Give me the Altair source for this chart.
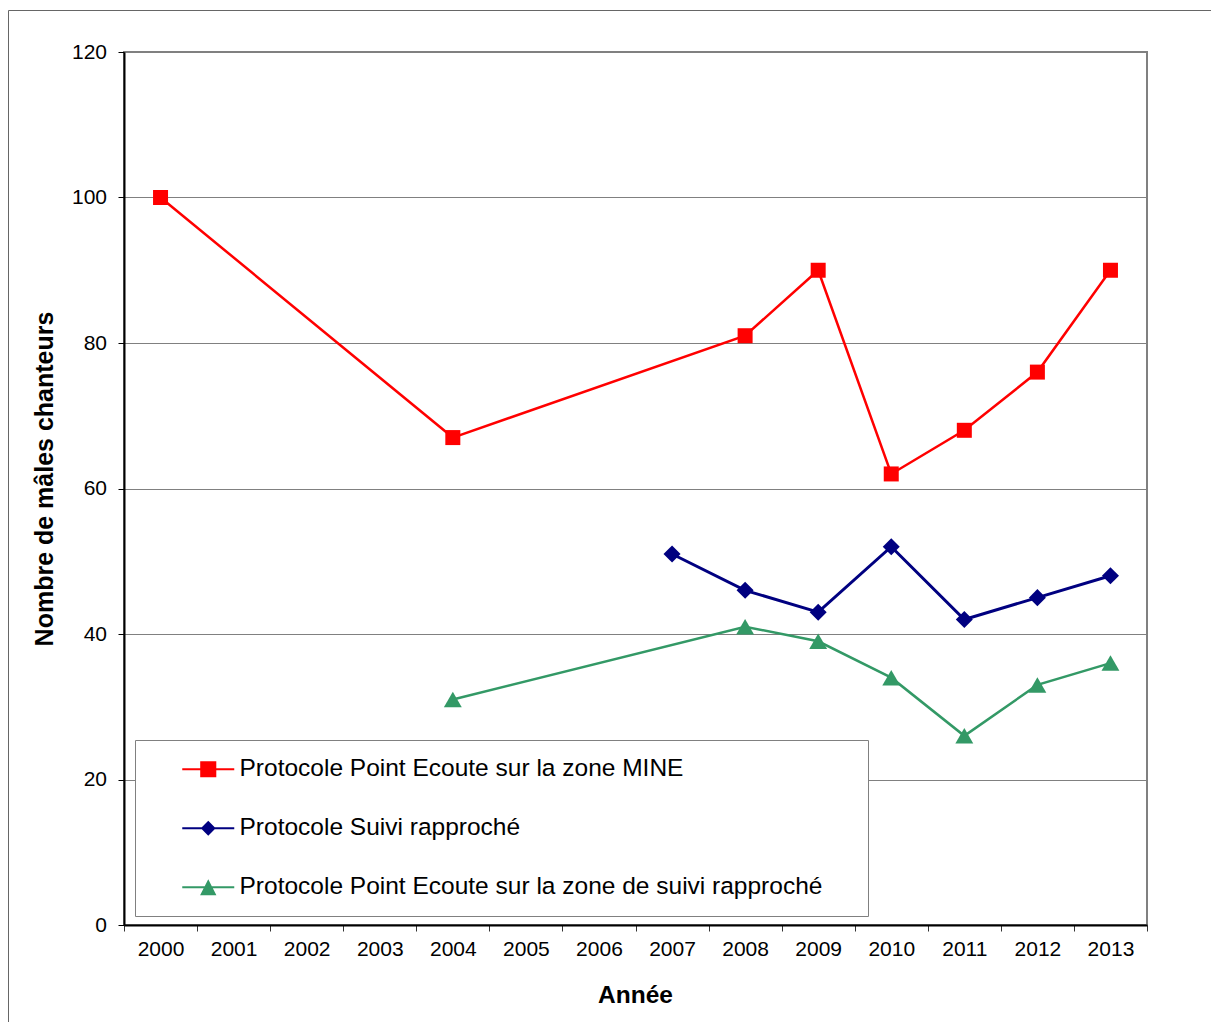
import altair as alt
import pandas as pd

years = ["2000", "2001", "2002", "2003", "2004", "2005", "2006",
         "2007", "2008", "2009", "2010", "2011", "2012", "2013"]

series = [
    "Protocole Point Ecoute sur la zone MINE",
    "Protocole Suivi rapproché",
    "Protocole Point Ecoute sur la zone de suivi rapproché",
]

mine_vals = [100, None, None, None, 67, None, None, None, 81, 90, 62, 68, 76, 90]
suivi_vals = [None, None, None, None, None, None, None, 51, 46, 43, 52, 42, 45, 48]
zone_vals = [None, None, None, None, 31, None, None, None, 41, 39, 34, 26, 33, 36]

colors = ["#FF0000", "#000080", "#339966"]
marker_shapes = ["square", "diamond", "triangle-up"]
marker_sizes = [225, 290, 320]
line_widths = [2.5, 3, 2.5]

# legend symbols: a line segment with the marker in the middle
legend_paths = [
    "M-2.1667,-0.0833H2.1667V0.0833H-2.1667Z M-0.67,-0.67H0.67V0.67H-0.67Z",
    "M-2.1667,-0.0833H2.1667V0.0833H-2.1667Z M0,-0.62L0.62,0L0,0.62L-0.62,0Z",
    "M-2.1667,-0.0833H2.1667V0.0833H-2.1667Z M0,-0.66L0.68,0.66L-0.68,0.66Z",
]

rows = []
for name, vals in zip(series, [mine_vals, suivi_vals, zone_vals]):
    for y, v in zip(years, vals):
        if v is not None:
            rows.append({"year": y, "value": v, "series": name})
df = pd.DataFrame(rows)

FONT = "Liberation Sans"

x_enc = alt.X(
    "year:O",
    scale=alt.Scale(type="band", domain=years, paddingInner=0, paddingOuter=0),
    axis=alt.Axis(
        title="Année", titleFont=FONT, titleFontSize=24.5, titleFontWeight="bold",
        titleColor="black", titleX=511, titleY=77, titleBaseline="alphabetic",
        titleAlign="center",
        labelFont=FONT, labelFontSize=21, labelColor="black", labelAngle=0,
        labelPadding=7, tickBand="extent", tickSize=6, tickColor="#333333",
        tickWidth=1, domainColor="black", domainWidth=2, grid=False,
    ),
)
y_enc = alt.Y(
    "value:Q",
    scale=alt.Scale(domain=[0, 120], nice=False),
    axis=alt.Axis(
        values=[0, 20, 40, 60, 80, 100, 120],
        title="Nombre de mâles chanteurs", titleFont=FONT, titleFontSize=25,
        titleFontWeight="bold", titleColor="black", titleX=-72, titleY=426.5,
        titleAngle=270, titleBaseline="alphabetic", titleAlign="center",
        labelFont=FONT, labelFontSize=21, labelColor="black", labelPadding=11.5,
        tickSize=6, tickColor="black", tickWidth=1,
        domainColor="black", domainWidth=2,
        grid=True, gridColor="#808080", gridWidth=1,
    ),
)

base = alt.Chart(df)

series_layers = []
for name, col, shp, sz, lw in zip(series, colors, marker_shapes, marker_sizes, line_widths):
    sub = base.transform_filter(alt.datum.series == name)
    series_layers.append(
        sub.mark_line(strokeWidth=lw, color=col).encode(x=x_enc, y=y_enc)
    )
    series_layers.append(
        sub.mark_point(filled=True, shape=shp, size=sz, color=col, opacity=1, strokeWidth=0)
        .encode(x=x_enc, y=y_enc)
    )

leg = alt.Legend(
    title=".", titleOrient="right", titleOpacity=0, titleFontSize=10,
    titlePadding=26,
    orient="none", legendX=11, legendY=688, direction="vertical",
    fillColor="white", strokeColor="#808080", padding=17, rowPadding=34,
    symbolSize=576, symbolStrokeWidth=0, symbolOpacity=1,
    symbolOffset=44, labelOffset=19,
    labelFont=FONT, labelFontSize=24.5, labelColor="black", labelLimit=2000,
)

legend_layer = base.mark_point(filled=True, opacity=0).encode(
    x=x_enc, y=y_enc,
    color=alt.Color("series:N", scale=alt.Scale(domain=series, range=colors), legend=leg),
    shape=alt.Shape("series:N", scale=alt.Scale(domain=series, range=legend_paths), legend=leg),
)

frame = alt.Chart(pd.DataFrame({"k": [0]})).mark_rect(
    fill=None, stroke="#666666", strokeWidth=1
).encode(
    x=alt.value(-115.5), x2=alt.value(1100), y=alt.value(-41.5), y2=alt.value(1000)
)

chart = alt.layer(frame, *series_layers, legend_layer).properties(
    width=1023, height=873,
    autosize=alt.AutoSizeParams(type="none"),
    padding={"left": 124, "top": 52, "right": 64, "bottom": 97},
    background="white",
).configure_view(stroke="#808080", strokeWidth=2)

chart.save("out.html", embed_options={"renderer": "svg", "actions": False})
